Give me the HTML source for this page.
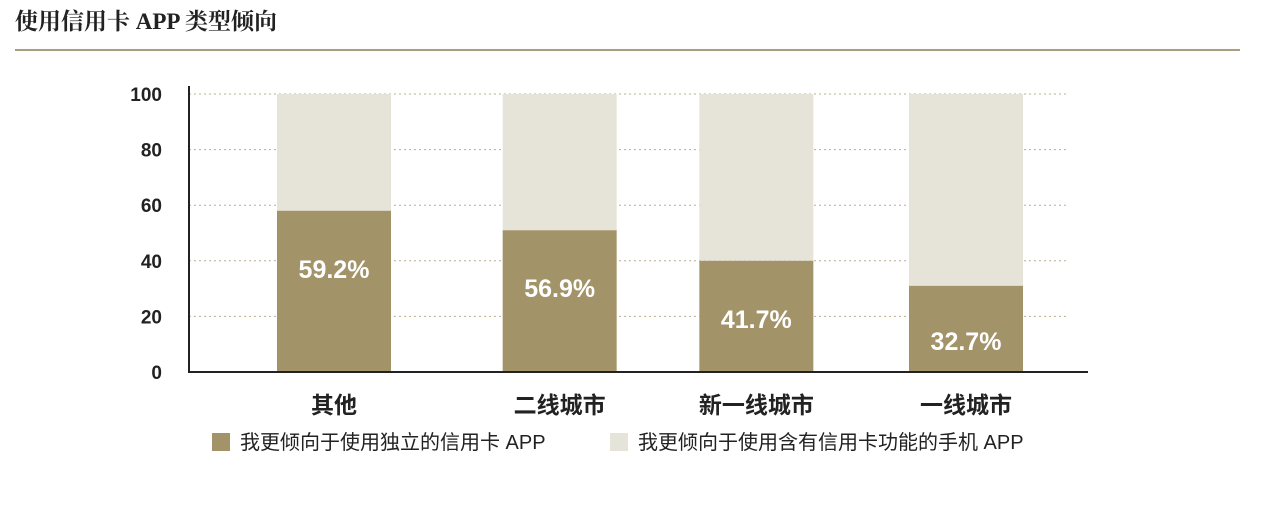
<!DOCTYPE html>
<html><head><meta charset="utf-8"><style>
body{margin:0;background:#fff;width:1269px;height:505px;overflow:hidden;font-family:"Liberation Sans","Noto Sans CJK SC",sans-serif;}
</style></head><body>
<svg width="1269" height="505" xmlns="http://www.w3.org/2000/svg" id="chart">
<text x="15" y="29" font-family="'Liberation Serif','Noto Serif CJK SC',serif" font-weight="bold" font-size="23" fill="#222">使用信用卡 APP 类型倾向</text>
<rect x="15" y="49" width="1225" height="2" fill="#a89f82"/>
<g id="grid"></g><g id="bars"></g><g id="axes"></g>
<g>
<rect x="212" y="433" width="18" height="18" fill="#a39369"/>
<text x="240" y="449" font-size="20" fill="#222">我更倾向于使用独立的信用卡 APP</text>
<rect x="610" y="433" width="18" height="18" fill="#e6e3d8"/>
<text x="638" y="449" font-size="20" fill="#222">我更倾向于使用含有信用卡功能的手机 APP</text>
</g>
</svg>
<script>
const categories=["其他","二线城市","新一线城市","一线城市"];
const standaloneValues=[58,51,40,31];
const valueLabels=["59.2%","56.9%","41.7%","32.7%"];
const yTicks=[0,20,40,60,80,100];
const NS="http://www.w3.org/2000/svg";
const y0=372,y1=94,xAxis0=189,xAxis1=1088,barW=114;
const bandShift=[0,15,1,0];
const y=v=>y0-(v/100)*(y0-y1);
const xc=i=>334+i*((966-334)/3)+bandShift[i];
function mk(t,a,p){const e=document.createElementNS(NS,t);for(const k in a)e.setAttribute(k,a[k]);p.appendChild(e);return e;}
const grid=document.getElementById('grid'),bars=document.getElementById('bars'),axes=document.getElementById('axes');
yTicks.forEach(t=>{
 if(t>0){const l=mk('line',{x1:xAxis0,x2:1068,y1:y(t),y2:y(t),stroke:'#b8b08f','stroke-dasharray':'2,3','stroke-width':1},grid);
 
 }
 const tx=mk('text',{x:162,y:y(t)+7,'text-anchor':'end','font-size':19,'font-weight':'bold',fill:'#222'},axes);
 tx.textContent=t;
 
 
});
categories.forEach((c,i)=>{
 const x=xc(i)-barW/2,v=standaloneValues[i];
 const bg=mk('rect',{x:x,y:y(100),width:barW,height:y(v)-y(100),fill:'#e6e3d8'},bars);
 
 
 const b=mk('rect',{x:x,y:y(v),width:barW,height:y0-y(v),fill:'#a39369'},bars);
 
 
 const lb=mk('text',{x:xc(i),y:Math.min(y(v)+67,y0-22),'text-anchor':'middle','font-size':25,'font-weight':'bold',fill:'#fff'},bars);
 lb.textContent=valueLabels[i];
 
 
 const ct=mk('text',{x:xc(i),y:413,'text-anchor':'middle','font-size':23,'font-weight':'bold',fill:'#222'},axes);
 ct.textContent=c;
 
 
});
const ya=mk('line',{x1:xAxis0,x2:xAxis0,y1:86,y2:y0+1,stroke:'#222','stroke-width':2},axes);


const xa=mk('line',{x1:xAxis0-1,x2:xAxis1,y1:y0,y2:y0,stroke:'#222','stroke-width':2},axes);


</script>
</body></html>
